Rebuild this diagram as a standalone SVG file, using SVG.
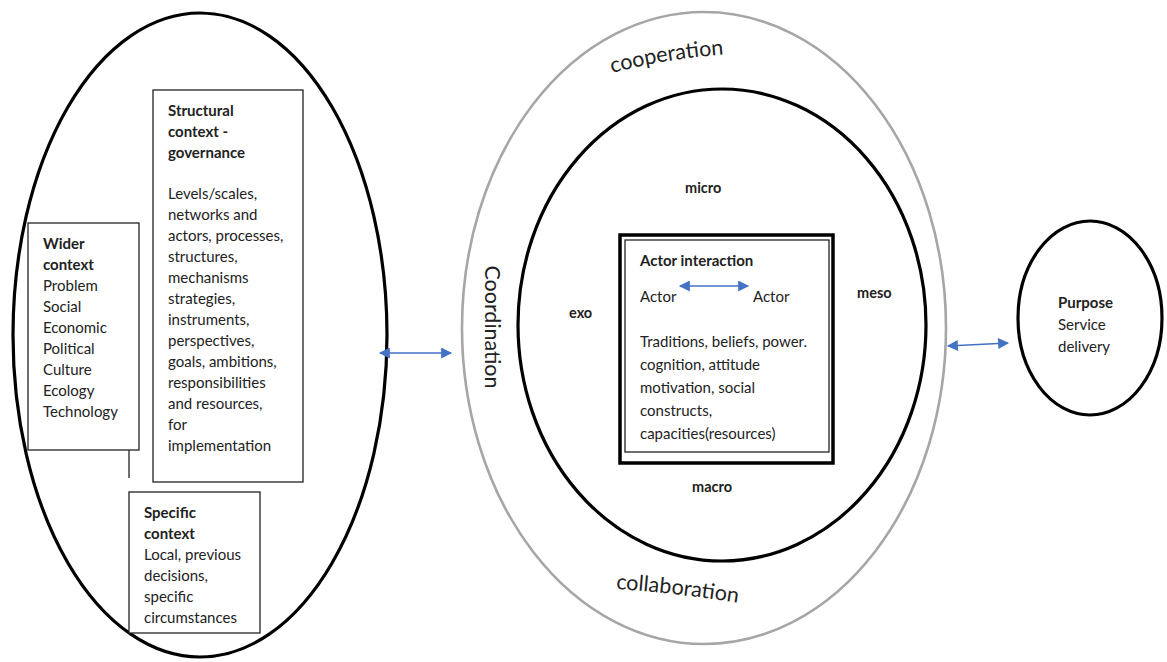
<svg xmlns="http://www.w3.org/2000/svg" width="1167" height="662" viewBox="0 0 1167 662">
  <style>
    .txt { font-family: Lato, "Liberation Sans", sans-serif; font-size: 15px; fill: #222; }
    .b { font-weight: bold; }
    .lvl { font-family: Lato, "Liberation Sans", sans-serif; font-size: 14.5px; font-weight: bold; fill: #222; }
    .big { font-family: Lato, "Liberation Sans", sans-serif; font-size: 21.5px; fill: #222; }
    .ring { fill: none; stroke: #000; stroke-width: 3.2; }
    .box { fill: #fff; stroke: #222; stroke-width: 1.3; }
    .conn { stroke: #4472C4; stroke-width: 1.6; fill: none; }
  </style>
  <defs>
    <marker id="ah" viewBox="0 0 10 10" refX="9" refY="5" markerWidth="13" markerHeight="11" markerUnits="userSpaceOnUse" orient="auto-start-reverse">
      <path d="M0,0 L10,5 L0,10 z" fill="#4472C4"/>
    </marker>
    <path id="arcTop" d="M 612 73 Q 668 58 732 54"/>
    <path id="arcBottom" d="M 616 589 Q 678 593 745 604"/>
  </defs>
  <rect width="1167" height="662" fill="#fff"/>

  <!-- context ellipse with its three boxes -->
  <g id="context">
    <ellipse class="ring" cx="200" cy="335" rx="187" ry="322"/>
  </g>
  <g id="structural-context">
    <rect class="box" x="153" y="90" width="150" height="392"/>
    <text class="txt">
      <tspan class="b" x="168" y="116">Structural</tspan>
      <tspan class="b" x="168" y="137">context -</tspan>
      <tspan class="b" x="168" y="158">governance</tspan>
      <tspan x="168" y="199">Levels/scales,</tspan>
      <tspan x="168" y="220">networks and</tspan>
      <tspan x="168" y="241">actors, processes,</tspan>
      <tspan x="168" y="262">structures,</tspan>
      <tspan x="168" y="283">mechanisms</tspan>
      <tspan x="168" y="304">strategies,</tspan>
      <tspan x="168" y="325">instruments,</tspan>
      <tspan x="168" y="346">perspectives,</tspan>
      <tspan x="168" y="367">goals, ambitions,</tspan>
      <tspan x="168" y="388">responsibilities</tspan>
      <tspan x="168" y="409">and resources,</tspan>
      <tspan x="168" y="430">for</tspan>
      <tspan x="168" y="451">implementation</tspan>
    </text>
  </g>
  <g id="wider-context">
    <rect class="box" x="28" y="223" width="111" height="227"/>
    <text class="txt">
      <tspan class="b" x="43" y="249">Wider</tspan>
      <tspan class="b" x="43" y="270">context</tspan>
      <tspan x="43" y="291">Problem</tspan>
      <tspan x="43" y="312">Social</tspan>
      <tspan x="43" y="333">Economic</tspan>
      <tspan x="43" y="354">Political</tspan>
      <tspan x="43" y="375">Culture</tspan>
      <tspan x="43" y="396">Ecology</tspan>
      <tspan x="43" y="417">Technology</tspan>
    </text>
  </g>
  <g id="specific-context">
    <rect class="box" x="129" y="492" width="131" height="141"/>
    <text class="txt">
      <tspan class="b" x="144" y="518">Specific</tspan>
      <tspan class="b" x="144" y="539">context</tspan>
      <tspan x="144" y="560">Local, previous</tspan>
      <tspan x="144" y="581">decisions,</tspan>
      <tspan x="144" y="602">specific</tspan>
      <tspan x="144" y="623">circumstances</tspan>
    </text>
  </g>

  <!-- outer ring: modes of working together -->
  <g id="cooperation-ring">
    <ellipse cx="704" cy="328" rx="242" ry="316" fill="none" stroke="#a6a6a6" stroke-width="2.6"/>
    <text class="big"><textPath href="#arcTop">cooperation</textPath></text>
    <text class="big"><textPath href="#arcBottom">collaboration</textPath></text>
    <text class="big" font-size="20" transform="translate(485,327) rotate(90)" text-anchor="middle">Coordination</text>
  </g>

  <!-- inner ring: system levels -->
  <g id="levels">
    <ellipse class="ring" cx="722" cy="325" rx="204" ry="236"/>
    <text class="lvl" x="685" y="193">micro</text>
    <text class="lvl" x="569" y="318">exo</text>
    <text class="lvl" x="857" y="298">meso</text>
    <text class="lvl" x="692" y="492">macro</text>
  </g>

  <g id="actor-interaction">
    <rect x="620" y="235" width="213" height="228" fill="#fff" stroke="#000" stroke-width="3.5"/>
    <rect x="625" y="240" width="204" height="212" fill="none" stroke="#222" stroke-width="1.3"/>
    <text class="txt b" x="640" y="266">Actor interaction</text>
    <text class="txt" x="640" y="302">Actor</text>
    <text class="txt" x="753" y="302">Actor</text>
    <text class="txt">
      <tspan x="640" y="347">Traditions, beliefs, power.</tspan>
      <tspan x="640" y="370">cognition, attitude</tspan>
      <tspan x="640" y="393">motivation, social</tspan>
      <tspan x="640" y="416">constructs,</tspan>
      <tspan x="640" y="439">capacities(resources)</tspan>
    </text>
  </g>

  <g id="purpose">
    <ellipse class="ring" cx="1090" cy="318" rx="72" ry="97"/>
    <text class="txt">
      <tspan class="b" x="1058" y="308">Purpose</tspan>
      <tspan x="1058" y="330">Service</tspan>
      <tspan x="1058" y="352">delivery</tspan>
    </text>
  </g>

  <g id="connectors">
    <line x1="129" y1="450" x2="129" y2="478" stroke="#222" stroke-width="1.3"/>
    <line class="conn" x1="380" y1="353" x2="451" y2="353" marker-start="url(#ah)" marker-end="url(#ah)"/>
    <line class="conn" x1="680" y1="286" x2="748" y2="286" marker-start="url(#ah)" marker-end="url(#ah)"/>
    <line class="conn" x1="948" y1="346" x2="1008" y2="343" marker-start="url(#ah)" marker-end="url(#ah)"/>
  </g>
</svg>
